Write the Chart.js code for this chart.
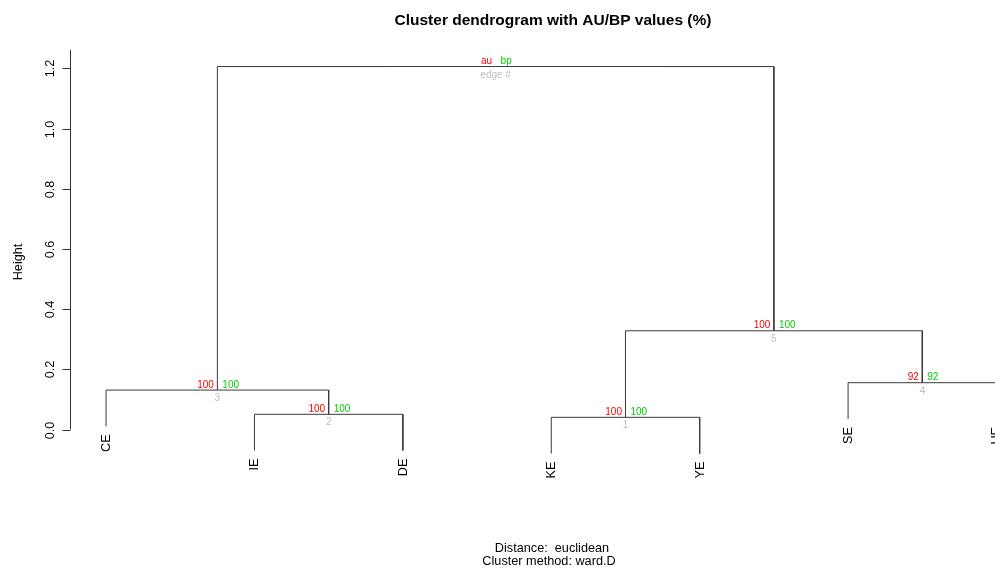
<!DOCTYPE html>
<html>
<head>
<meta charset="utf-8">
<script src="https://cdn.jsdelivr.net/npm/chart.js@4/dist/chart.umd.min.js"></script>
<style>
html,body{margin:0;padding:0;background:#fff;overflow:hidden;}
#wrap{width:995px;height:568px;position:relative;}
</style>
</head>
<body>
<div id="wrap"><canvas id="c" width="995" height="568"></canvas></div>
<script>
// ---- data ----
const leafLabels = ['CE', 'IE', 'DE', 'KE', 'YE', 'SE', 'UE'];
// R-style merge rows: negative = leaf (1-based index in leafLabels), positive = earlier merge row
const mergeLeft  = [-4, -2, -1, -6, 1, 3];
const mergeRight = [-5, -3,  2, -7, 4, 5];
const mergeHeights = [0.0405, 0.0505, 0.131, 0.1555, 0.328, 1.206];
const auValues = [100, 100, 100, 92, 100];
const bpValues = [100, 100, 100, 92, 100];
const edgeNumbers = [1, 2, 3, 4, 5];
const yTickValues = [0.0, 0.2, 0.4, 0.6, 0.8, 1.0, 1.2];
const yTickLabels = ['0.0', '0.2', '0.4', '0.6', '0.8', '1.0', '1.2'];
const hang = 0.1 * mergeHeights[mergeHeights.length - 1];

const titleText = 'Cluster dendrogram with AU/BP values (%)';
const subText1 = 'Distance:  euclidean';
const subText2 = 'Cluster method: ward.D';
const yTitle = 'Height';

// ---- derived structure ----
const nodeX = [];
function childX(c) { return c < 0 ? -c : nodeX[c - 1]; }
function childY(c, parentH) { return c < 0 ? parentH - hang : mergeHeights[c - 1]; }
for (let i = 0; i < mergeHeights.length; i++) {
  nodeX.push((childX(mergeLeft[i]) + childX(mergeRight[i])) / 2);
}
const leafEnd = {};
const datasets = [];
for (let i = 0; i < mergeHeights.length; i++) {
  const h = mergeHeights[i];
  const l = mergeLeft[i], r = mergeRight[i];
  if (l < 0) leafEnd[-l] = h - hang;
  if (r < 0) leafEnd[-r] = h - hang;
  datasets.push({
    type: 'line',
    data: [
      {x: childX(l), y: childY(l, h)},
      {x: childX(l), y: h},
      {x: childX(r), y: h},
      {x: childX(r), y: childY(r, h)}
    ],
    borderColor: '#3a3a3a',
    borderWidth: 1,
    pointRadius: 0,
    tension: 0,
    fill: false,
    clip: false
  });
}

const FONT = '"Liberation Sans", Arial, Helvetica, sans-serif';
const RED = '#ff0000', GREEN = '#00cd00', GREY = '#bebebe';

const decor = {
  id: 'decor',
  afterDatasetsDraw(chart) {
    const ctx = chart.ctx;
    const xs = chart.scales.x, ys = chart.scales.y;
    const ca = chart.chartArea;
    ctx.save();
    // y axis
    ctx.strokeStyle = '#333';
    ctx.lineWidth = 1;
    const ax = Math.round(ca.left) + 0.5;
    ctx.beginPath();
    ctx.moveTo(ax, ys.getPixelForValue(yTickValues[0]));
    ctx.lineTo(ax, ca.top);
    ctx.stroke();
    ctx.fillStyle = '#000';
    ctx.font = '12.7px ' + FONT;
    ctx.textAlign = 'center';
    ctx.textBaseline = 'alphabetic';
    yTickValues.forEach((v, i) => {
      const py = Math.round(ys.getPixelForValue(v)) + 0.5;
      ctx.beginPath();
      ctx.moveTo(ax - 8, py);
      ctx.lineTo(ax, py);
      ctx.stroke();
      ctx.save();
      ctx.translate(ax - 17, py);
      ctx.rotate(-Math.PI / 2);
      ctx.fillText(yTickLabels[i], 0, 0);
      ctx.restore();
    });
    ctx.save();
    ctx.translate(22, 262);
    ctx.rotate(-Math.PI / 2);
    ctx.fillText(yTitle, 0, 0);
    ctx.restore();

    // leaf labels
    ctx.font = '12.7px ' + FONT;
    ctx.textAlign = 'right';
    leafLabels.forEach((lab, i) => {
      const px = xs.getPixelForValue(i + 1);
      const py = ys.getPixelForValue(leafEnd[i + 1]);
      ctx.save();
      ctx.translate(px + 4, py + 8);
      ctx.rotate(-Math.PI / 2);
      ctx.fillText(lab, 0, 0);
      ctx.restore();
    });

    // node labels
    ctx.font = '10px ' + FONT;
    for (let i = 0; i < mergeHeights.length; i++) {
      const px = xs.getPixelForValue(nodeX[i]);
      const py = ys.getPixelForValue(mergeHeights[i]);
      const isTop = i === mergeHeights.length - 1;
      const a = isTop ? 'au' : String(auValues[i]);
      const b = isTop ? 'bp' : String(bpValues[i]);
      const e = isTop ? 'edge #' : String(edgeNumbers[i]);
      ctx.textAlign = 'right';
      ctx.fillStyle = RED;
      ctx.fillText(a, px - 3.5, py - 2.5);
      ctx.textAlign = 'left';
      ctx.fillStyle = GREEN;
      ctx.fillText(b, px + 5, py - 2.5);
      ctx.textAlign = 'center';
      ctx.fillStyle = GREY;
      ctx.fillText(e, px, py + 11);
    }

    // titles
    ctx.fillStyle = '#000';
    ctx.textAlign = 'center';
    ctx.font = 'bold 15.5px ' + FONT;
    ctx.fillText(titleText, 553, 25);
    ctx.font = '12.7px ' + FONT;
    ctx.fillText(subText1, 552, 551.5);
    ctx.fillText(subText2, 549, 564.5);
    ctx.restore();
  }
};

new Chart(document.getElementById('c'), {
  type: 'line',
  data: { datasets },
  options: {
    responsive: false,
    devicePixelRatio: 1,
    animation: false,
    layout: { padding: { left: 70, right: 0, top: 50, bottom: 101 } },
    plugins: { legend: { display: false }, tooltip: { enabled: false }, title: { display: false } },
    scales: {
      x: { type: 'linear', display: false, min: 0.757, max: 6.99 },
      y: { type: 'linear', display: false, min: -0.1246, max: 1.261 }
    }
  },
  plugins: [decor]
});
</script>
</body>
</html>
